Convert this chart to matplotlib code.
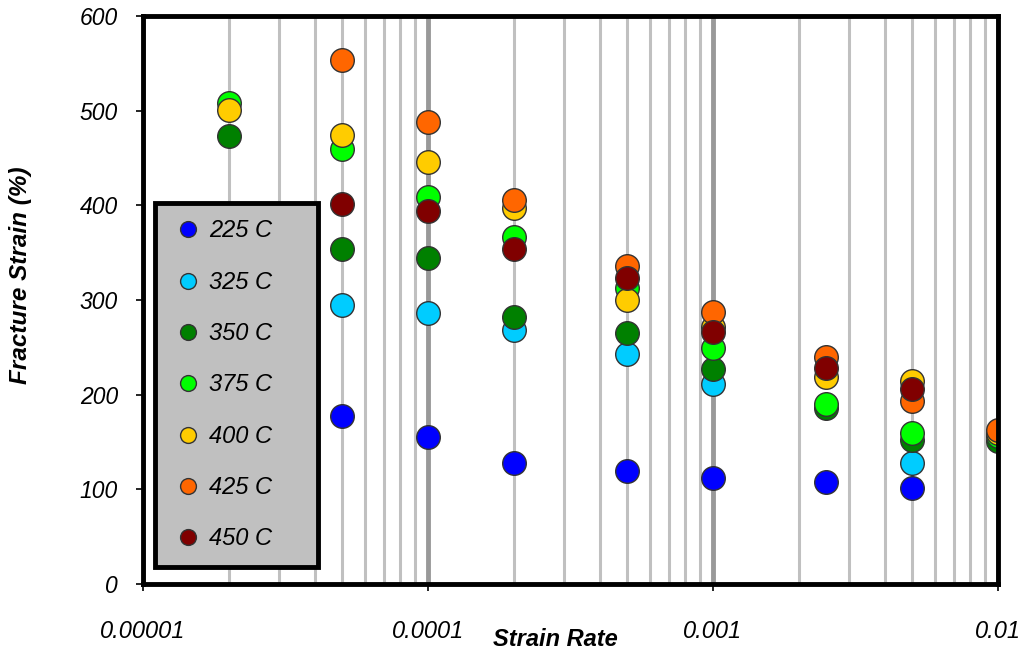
import matplotlib
matplotlib.use("Agg")
import matplotlib.pyplot as plt
from matplotlib.ticker import FixedLocator, LogLocator, NullFormatter

plt.rcParams['font.family'] = ['Liberation Sans', 'DejaVu Sans']

# ---- data ----
rates = [2e-5, 5e-5, 1e-4, 2e-4, 5e-4, 1e-3, 2.5e-3, 5e-3, 1e-2]
labels = ["225 C", "325 C", "350 C", "375 C", "400 C", "425 C", "450 C"]
colors = ["#0000FF", "#00CCFF", "#008000", "#00FF00", "#FFCC00", "#FF6600", "#800000"]
# None = not visible in the reference
s225 = [None, 177, 155, 128, 119, 112, 108, 101, None]
s325 = [None, 295, 286, 268, 243, 211, None, 128, None]
s350 = [473, 354, 344, 282, 265, 227, 186, 152, 151]
s375 = [508, 460, 409, 367, 313, 249, 190, 159, 156]
s400 = [501, 474, 446, 397, 300, 271, 219, 214, 160]
s425 = [None, 553, 488, 406, 336, 287, 240, 193, 163]
s450 = [None, 401, 394, 354, 323, 266, 228, 206, None]
series = [s225, s325, s350, s375, s400, s425, s450]

xticks = [1e-5, 1e-4, 1e-3, 1e-2]
xticklabels = ["0.00001", "0.0001", "0.001", "0.01"]
yticks = [0, 100, 200, 300, 400, 500, 600]

fig = plt.figure(figsize=(10.29, 6.51), dpi=100)
ax = fig.add_axes([143/1029, 1-584/651, (998-143)/1029, (584-16)/651])

for vals, lab, col in zip(series, labels, colors):
    xs = [x for x, v in zip(rates, vals) if v is not None]
    ys = [v for v in vals if v is not None]
    ax.plot(xs, ys, linestyle='none', marker='o', markersize=17,
            markerfacecolor=col, markeredgecolor='#333333', markeredgewidth=1,
            label=lab, zorder=3)

ax.set_xscale('log')
ax.set_xlim(1e-5, 1e-2)
ax.set_ylim(0, 600)
ax.xaxis.set_major_locator(FixedLocator(xticks))
ax.set_xticklabels(xticklabels)
ax.xaxis.set_minor_locator(LogLocator(base=10, subs=range(2, 10)))
ax.xaxis.set_minor_formatter(NullFormatter())
ax.set_yticks(yticks)

ax.grid(True, which='minor', axis='x', color='#C0C0C0', linewidth=2.2, zorder=0)
ax.grid(True, which='major', axis='x', color='#999999', linewidth=3.5, zorder=0)
ax.grid(False, axis='y')
ax.set_axisbelow(True)

for sp in ax.spines.values():
    sp.set_linewidth(3.5)
    sp.set_color('black')
    sp.set_zorder(5)

ax.tick_params(which='minor', length=0)
ax.tick_params(axis='x', which='major', direction='out', length=5, width=1.2,
               pad=21, labelsize=17)
ax.tick_params(axis='y', which='major', direction='out', length=5, width=1.2,
               pad=13, labelsize=16.5)
for t in ax.get_xticklabels() + ax.get_yticklabels():
    t.set_fontstyle('italic')

ax.set_xlabel("Strain Rate", fontsize=17, fontweight='bold', fontstyle='italic')
ax.xaxis.set_label_coords(0.482, -0.078)
ax.set_ylabel("Fracture Strain (%)", fontsize=17.5, fontweight='bold', fontstyle='italic')
ax.yaxis.set_label_coords(-0.13, 0.544)

leg = ax.legend(loc='lower left', bbox_to_anchor=(0.014, 0.030, 0.191, 0.646),
                mode='expand', fancybox=False, framealpha=1, facecolor='#C0C0C0',
                edgecolor='black', markerscale=0.67, handlelength=1.4,
                handletextpad=0.2, labelspacing=1.2, borderpad=0.7,
                borderaxespad=0, prop={'size': 17, 'style': 'italic'})
leg.get_frame().set_linewidth(3.5)
leg.set_zorder(6)

fig.savefig("out.png", dpi=100)
